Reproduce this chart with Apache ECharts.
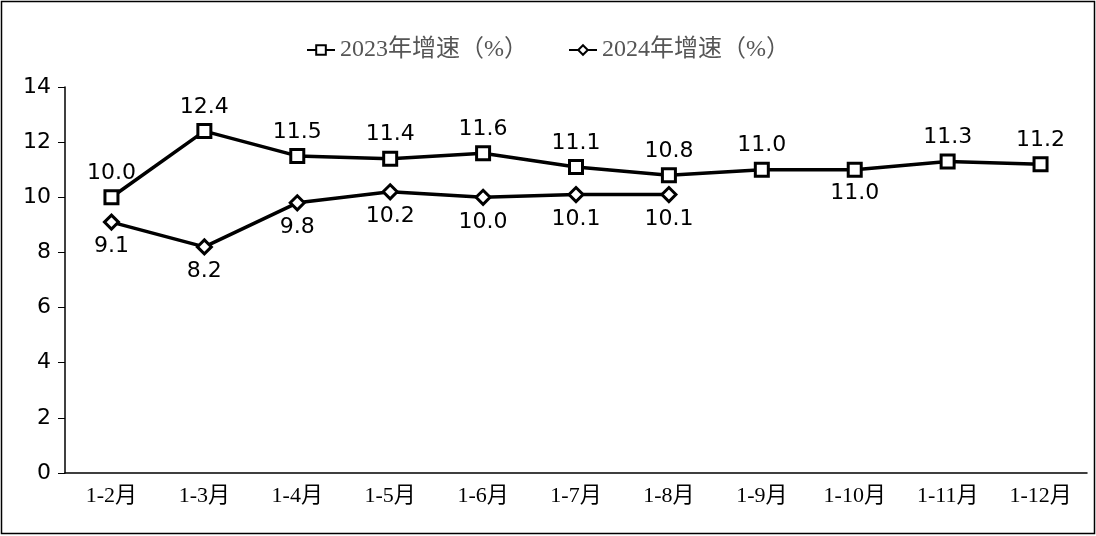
<!DOCTYPE html>
<html>
<head>
<meta charset="utf-8">
<script src="https://cdn.jsdelivr.net/npm/echarts@6/dist/echarts.min.js"></script>
<style>
  html, body { margin: 0; padding: 0; background: #fff; }
  #chart { width: 1096px; height: 536px; }
</style>
</head>
<body>
<div id="chart"></div>
<script>
// 数据
const months = ['1-2月', '1-3月', '1-4月', '1-5月', '1-6月', '1-7月', '1-8月', '1-9月', '1-10月', '1-11月', '1-12月'];
const growth2023 = [10.0, 12.4, 11.5, 11.4, 11.6, 11.1, 10.8, 11.0, 11.0, 11.3, 11.2];
const growth2024 = [9.1, 8.2, 9.8, 10.2, 10.0, 10.1, 10.1];
const below2023 = ['1-10月']; // 标签在下方的点

const chart = echarts.init(document.getElementById('chart'));

const labelFont = { fontFamily: 'DejaVu Sans', fontSize: 22, color: '#000' };
const serifFont = '"Liberation Serif", "Noto Sans CJK SC"';

chart.setOption({
  animation: false,
  graphic: [{
    type: 'rect',
    shape: { x: 1.5, y: 1.5, width: 1093, height: 532 },
    style: { fill: 'none', stroke: '#000', lineWidth: 1.5 }
  }],
  legend: {
    top: 33,
    left: 'center',
    itemWidth: 28,
    itemHeight: 12,
    itemGap: 40,
    textStyle: { fontFamily: serifFont, fontSize: 24, color: '#555' },
    data: ['2023年增速（%）', '2024年增速（%）']
  },
  grid: { left: 65, right: 9, top: 87, bottom: 63 },
  xAxis: {
    type: 'category',
    data: months,
    axisLine: { lineStyle: { color: '#000', width: 1.5 } },
    axisTick: { show: false },
    axisLabel: { fontFamily: serifFont, fontSize: 22, color: '#000', margin: 12 }
  },
  yAxis: {
    type: 'value',
    min: 0,
    max: 14,
    interval: 2,
    splitLine: { show: false },
    axisLine: { show: true, lineStyle: { color: '#000', width: 1.5 } },
    axisTick: { show: true, inside: false, length: 7, lineStyle: { color: '#000' } },
    axisLabel: { fontFamily: 'DejaVu Sans', fontSize: 22, color: '#000', margin: 14 }
  },
  series: [
    {
      name: '2023年增速（%）',
      type: 'line',
      data: growth2023.map((v, i) => ({
        value: v,
        label: { position: below2023.includes(months[i]) ? 'bottom' : 'top' }
      })),
      symbol: 'rect',
      symbolSize: 13,
      lineStyle: { color: '#000', width: 3.5 },
      itemStyle: { color: '#fff', borderColor: '#000', borderWidth: 3 },
      label: {
        show: true,
        ...labelFont,
        distance: 5,
        formatter: p => p.value.toFixed(1)
      }
    },
    {
      name: '2024年增速（%）',
      type: 'line',
      data: growth2024,
      symbol: 'diamond',
      symbolSize: 14,
      lineStyle: { color: '#000', width: 3.5 },
      itemStyle: { color: '#fff', borderColor: '#000', borderWidth: 3 },
      label: {
        show: true,
        position: 'bottom',
        ...labelFont,
        distance: 5,
        formatter: p => p.value.toFixed(1)
      }
    }
  ]
});
</script>
</body>
</html>
